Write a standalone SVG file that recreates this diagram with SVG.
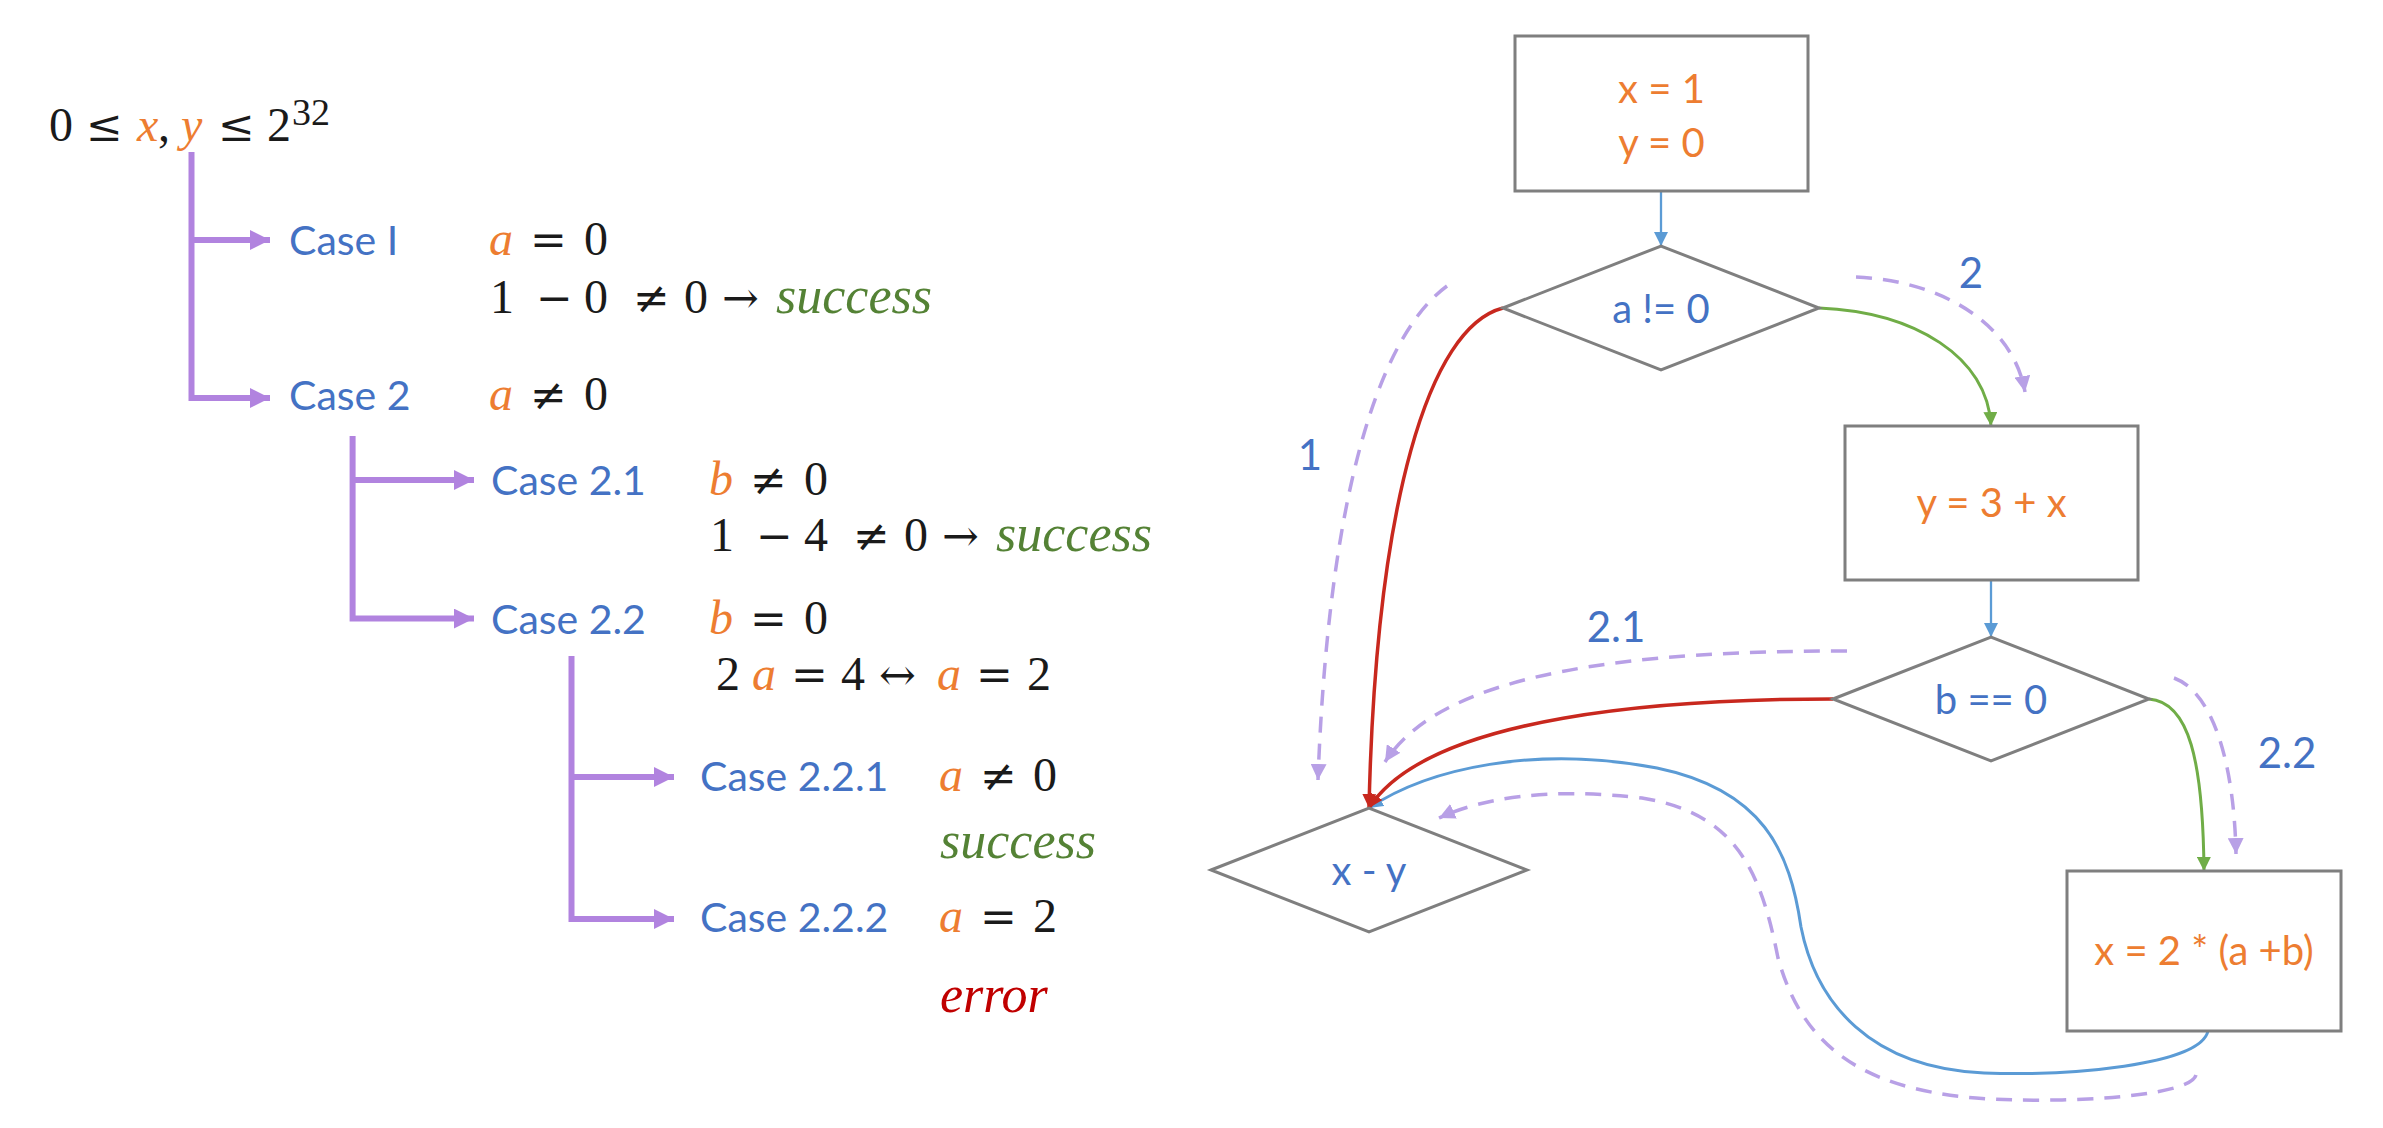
<svg xmlns="http://www.w3.org/2000/svg" width="2383" height="1128" viewBox="0 0 2383 1128">
<style>
.m{font-family:"Liberation Serif","DejaVu Serif",serif;font-size:48px;fill:#1a1a1a}
.op{font-family:"DejaVu Serif","Liberation Serif",serif;font-size:44px;font-style:normal}
.i{font-style:italic}
.w{font-size:52px}
.o{fill:#ED7D31}
.g{fill:#548235}
.r{fill:#C00000}
.case{font-family:Lato,"Liberation Sans",sans-serif;font-size:41px;fill:#4472C4}
.tree{fill:none;stroke:#B183DF;stroke-width:6}
.box{fill:#fff;stroke:#7F7F7F;stroke-width:3}
.nt{font-family:Lato,"Liberation Sans",sans-serif;font-size:40px;text-anchor:middle}
.ot{fill:#ED7D31}
.bt{fill:#4472C4}
.lbl{font-family:Lato,"Liberation Sans",sans-serif;font-size:42px;fill:#4472C4;text-anchor:middle}
.dash{fill:none;stroke:#B8A0E6;stroke-width:3.5;stroke-dasharray:16 11}
.cb{fill:none;stroke:#5B9BD5}
.cr{fill:none;stroke:#C8281E;stroke-width:3.5}
.cg{fill:none;stroke:#70AD47;stroke-width:3}
</style>
<defs>
<marker id="ap" markerUnits="userSpaceOnUse" markerWidth="20" markerHeight="20" refX="20" refY="10" orient="auto"><path d="M0,0 L20,10 L0,20 z" fill="#B183DF"/></marker>
<marker id="ab" markerUnits="userSpaceOnUse" markerWidth="14" markerHeight="14" refX="14" refY="7" orient="auto"><path d="M0,0 L14,7 L0,14 z" fill="#5B9BD5"/></marker>
<marker id="ar" markerUnits="userSpaceOnUse" markerWidth="14" markerHeight="14" refX="14" refY="7" orient="auto"><path d="M0,0 L14,7 L0,14 z" fill="#C8281E"/></marker>
<marker id="ag" markerUnits="userSpaceOnUse" markerWidth="14" markerHeight="14" refX="14" refY="7" orient="auto"><path d="M0,0 L14,7 L0,14 z" fill="#70AD47"/></marker>
<marker id="al" markerUnits="userSpaceOnUse" markerWidth="16" markerHeight="16" refX="16" refY="8" orient="auto"><path d="M0,0 L16,8 L0,16 z" fill="#B8A0E6"/></marker>
</defs>
<rect width="2383" height="1128" fill="#fff"/>

<g id="case-tree">
<text class="m" y="141"><tspan x="49">0</tspan><tspan x="86" class="op">≤</tspan><tspan x="137" class="i o">x</tspan><tspan x="158">,</tspan><tspan x="181" class="i o">y</tspan><tspan x="218" class="op">≤</tspan><tspan x="267">2</tspan><tspan x="292" font-size="38" dy="-16">32</tspan></text>
<path class="tree" d="M191.5,152 V398 H270" marker-end="url(#ap)"/>
<path class="tree" d="M191.5,240 H270" marker-end="url(#ap)"/>
<path class="tree" d="M352.6,436 V618.6 H474" marker-end="url(#ap)"/>
<path class="tree" d="M352.6,480 H474" marker-end="url(#ap)"/>
<path class="tree" d="M571.5,656 V919 H674" marker-end="url(#ap)"/>
<path class="tree" d="M571.5,777 H674" marker-end="url(#ap)"/>

<text class="case" x="289" y="255">Case I</text>
<text class="m" y="255"><tspan x="489" class="i o">a</tspan><tspan x="530" class="op">=</tspan><tspan x="584">0</tspan></text>
<text class="m" y="313"><tspan x="490">1</tspan><tspan x="536" class="op">−</tspan><tspan x="584">0</tspan><tspan x="633" class="op">≠</tspan><tspan x="684">0</tspan><tspan x="722" class="op">→</tspan><tspan x="776" class="i g w">success</tspan></text>

<text class="case" x="289" y="410">Case 2</text>
<text class="m" y="410"><tspan x="489" class="i o">a</tspan><tspan x="530" class="op">≠</tspan><tspan x="584">0</tspan></text>

<text class="case" x="491" y="495">Case 2.1</text>
<text class="m" y="495"><tspan x="709" class="i o">b</tspan><tspan x="750" class="op">≠</tspan><tspan x="804">0</tspan></text>
<text class="m" y="551"><tspan x="710">1</tspan><tspan x="756" class="op">−</tspan><tspan x="804">4</tspan><tspan x="853" class="op">≠</tspan><tspan x="904">0</tspan><tspan x="942" class="op">→</tspan><tspan x="996" class="i g w">success</tspan></text>

<text class="case" x="491" y="634">Case 2.2</text>
<text class="m" y="634"><tspan x="709" class="i o">b</tspan><tspan x="750" class="op">=</tspan><tspan x="804">0</tspan></text>
<text class="m" y="690"><tspan x="716">2</tspan><tspan x="752" class="i o">a</tspan><tspan x="791" class="op">=</tspan><tspan x="841">4</tspan><tspan x="879" class="op">↔</tspan><tspan x="937" class="i o">a</tspan><tspan x="976" class="op">=</tspan><tspan x="1027">2</tspan></text>

<text class="case" x="700" y="791">Case 2.2.1</text>
<text class="m" y="791"><tspan x="939" class="i o">a</tspan><tspan x="980" class="op">≠</tspan><tspan x="1033">0</tspan></text>
<text class="m i g w" x="940" y="858">success</text>

<text class="case" x="700" y="932">Case 2.2.2</text>
<text class="m" y="932"><tspan x="939" class="i o">a</tspan><tspan x="980" class="op">=</tspan><tspan x="1033">2</tspan></text>
<text class="m i r w" x="940" y="1012">error</text>
</g>

<g id="connectors">
<path class="cb" stroke-width="2.3" d="M1661,191 L1661,246" marker-end="url(#ab)"/>
<path class="cb" stroke-width="2.3" d="M1991,580 L1991,637" marker-end="url(#ab)"/>
<path class="cb" stroke-width="3" d="M2208,1031 C2200,1066 2067,1076 1984,1073 C1870,1068 1816,1003 1801,927 C1790,851 1763,790 1657,768 C1535,745 1429,768 1369,808" marker-end="url(#ab)"/>
<path class="cr" d="M1503,308 C1429,327 1376,502 1369,808" marker-end="url(#ar)"/>
<path class="cr" d="M1833,699 C1672,699 1429,714 1369,808" marker-end="url(#ar)"/>
<path class="cg" d="M1819,308 C1915,312 1988,357 1991,426" marker-end="url(#ag)"/>
<path class="cg" d="M2149,699 C2189,702 2203,760 2204,871" marker-end="url(#ag)"/>
<path class="dash" d="M1447,286 C1391,327 1330,456 1318,780" marker-end="url(#al)"/>
<path class="dash" d="M1856,277 C1946,281 2014,327 2025,392" marker-end="url(#al)"/>
<path class="dash" d="M1847,651 C1642,651 1444,669 1385,762" marker-end="url(#al)"/>
<path class="dash" d="M2174,678 C2212,692 2234,760 2236,854" marker-end="url(#al)"/>
<path class="dash" d="M2196,1075 C2190,1098 2052,1104 1976,1098 C1854,1088 1801,1040 1778,958 C1760,866 1733,813 1642,798 C1550,787 1482,798 1439,818" marker-end="url(#al)"/>
<text class="lbl" x="1310" y="470">1</text>
<text class="lbl" x="1971" y="288">2</text>
<text class="lbl" x="1616" y="642">2.1</text>
<text class="lbl" x="2287" y="768">2.2</text>
</g>

<g id="n-init">
<rect class="box" x="1515" y="36" width="293" height="155"/>
<text class="nt ot" x="1661.5" y="103">x = 1</text>
<text class="nt ot" x="1661.5" y="157">y = 0</text>
</g>
<g id="n-cond-a">
<polygon class="box" points="1503,308 1661,246 1819,308 1661,370"/>
<text class="nt bt" x="1661" y="323">a != 0</text>
</g>
<g id="n-assign-y">
<rect class="box" x="1845" y="426" width="293" height="154"/>
<text class="nt ot" x="1991.5" y="517">y = 3 + x</text>
</g>
<g id="n-cond-b">
<polygon class="box" points="1833,699 1991,637 2149,699 1991,761"/>
<text class="nt bt" x="1991" y="714">b == 0</text>
</g>
<g id="n-assign-x">
<rect class="box" x="2067" y="871" width="274" height="160"/>
<text class="nt ot" x="2204" y="965">x = 2 * (a +b)</text>
</g>
<g id="n-xy">
<polygon class="box" points="1211,870 1369,808 1527,870 1369,932"/>
<text class="nt bt" x="1369" y="885">x - y</text>
</g>
</svg>
